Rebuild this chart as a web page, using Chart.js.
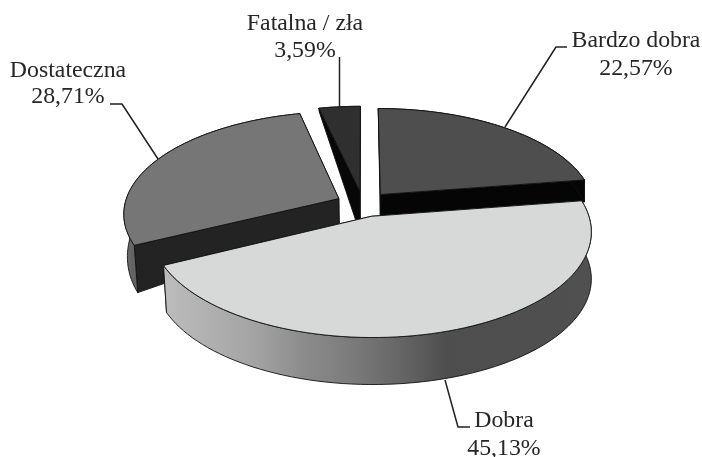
<!DOCTYPE html>
<html>
<head>
<meta charset="utf-8">
<title>Ocena</title>
<script src="https://cdn.jsdelivr.net/npm/chart.js@4"></script>
<style>
  html, body { margin: 0; padding: 0; background: #fff; }
  canvas { display: block; }
</style>
</head>
<body>
<canvas id="pie" width="702" height="457"></canvas>
<script>
const categories = ['Bardzo dobra', 'Dobra', 'Dostateczna', 'Fatalna / zła'];
const shares = [22.57, 45.13, 28.71, 3.59];

const topColors = ['#4e4e4e', '#d6d9d8', '#767676', '#2f2f2f'];
const cutColors = ['#050505', '#808080', '#232323', '#070707'];
const drawOrder = [3, 0, 2, 1];   // back to front
const apexDepth = [0, 0, 0, 20];  // fatalna runs deeper at the centre

// label centre x, baseline of first line, baseline of second line
const labelPos = [[636, 47, 75], [504, 427, 455], [68, 77, 103], [305, 30, 57]];
const leaders = [
  [[567, 47], [556, 47], [505, 127]],
  [[470, 427], [458, 427], [445, 380]],
  [[110, 104], [122, 104], [158, 159]],
  [[339.5, 57], [339.5, 107]]
];

const squash = 0.4696;
const persp = 0.14;
const bottomShrink = 0.985;

function depthAt(u, v, i, r) {
  if (i === 1) return 47;  // the big slice keeps its height all round
  return 24 + 21 * v + 15 * Math.max(0, -u) + 3 * Math.max(0, u) + apexDepth[i] * (1 - r);
}

// plane coords (unit circle, v towards viewer) to the picture
function project(el, u, v, i, r, bottom) {
  const w = 1 - persp * v;
  let x = el.x + el.outerRadius * u / w;
  let y = el.y + el.outerRadius * squash * v / w;
  if (bottom) {
    if (u < 0) x = el.x + (x - el.x) * bottomShrink;
    y += depthAt(u, v, i, r);
  }
  return [x, y];
}

function polygon(ctx, pts, fill) {
  ctx.beginPath();
  pts.forEach((p, k) => k ? ctx.lineTo(p[0], p[1]) : ctx.moveTo(p[0], p[1]));
  ctx.closePath();
  ctx.fillStyle = fill;
  ctx.fill();
  ctx.stroke();
}

function drawSlice(ctx, el, i) {
  const a0 = el.startAngle, a1 = el.endAngle;
  const mid = (a0 + a1) / 2;
  const off = el.options.offset / el.outerRadius;
  const ou = off * Math.cos(mid), ov = off * Math.sin(mid);
  const rim = [];
  for (let k = 0; k <= 80; k++) {
    const t = a0 + (a1 - a0) * k / 80;
    rim.push([ou + Math.cos(t), ov + Math.sin(t)]);
  }
  const topApex = project(el, ou, ov, i, 0, false);
  const botApex = project(el, ou, ov, i, 0, true);
  const topRim = rim.map(p => project(el, p[0], p[1], i, 1, false));
  const botRim = rim.map(p => project(el, p[0], p[1], i, 1, true));

  ctx.lineWidth = 0.9;
  ctx.lineJoin = 'round';
  ctx.strokeStyle = '#111';

  // the two cut faces, the one nearer the viewer last
  const last = rim.length - 1;
  const cuts = topRim[0][1] > topRim[last][1] ? [last, 0] : [0, last];
  cuts.forEach(k => polygon(ctx, [topApex, topRim[k], botRim[k], botApex], cutColors[i]));

  // outer wall
  let wall = cutColors[i];
  if (i === 1) {
    wall = ctx.createLinearGradient(165, 0, 592, 0);
    wall.addColorStop(0, '#bcbcbc');
    wall.addColorStop(0.22, '#a2a2a2');
    wall.addColorStop(0.32, '#8c8c8c');
    wall.addColorStop(0.42, '#7e7e7e');
    wall.addColorStop(0.55, '#666666');
    wall.addColorStop(0.66, '#4e4e4e');
    wall.addColorStop(1, '#505050');
  } else if (i === 2) {
    wall = ctx.createLinearGradient(123, 0, 145, 0);
    wall.addColorStop(0, '#707070');
    wall.addColorStop(1, '#555555');
  }
  polygon(ctx, topRim.concat(botRim.slice().reverse()), wall);

  // top face
  polygon(ctx, [topApex].concat(topRim), topColors[i]);
}

const tiltedPie = {
  id: 'tiltedPie',
  beforeDatasetsDraw(chart) {
    const ctx = chart.ctx;
    const arcs = chart.getDatasetMeta(0).data;
    ctx.save();
    drawOrder.forEach(i => drawSlice(ctx, arcs[i], i));
    ctx.restore();
    return false;
  },
  afterDraw(chart) {
    const ctx = chart.ctx;
    ctx.save();
    ctx.strokeStyle = '#222';
    ctx.lineWidth = 1.5;
    ctx.lineJoin = 'round';
    leaders.forEach(line => {
      ctx.beginPath();
      line.forEach((p, k) => k ? ctx.lineTo(p[0], p[1]) : ctx.moveTo(p[0], p[1]));
      ctx.stroke();
    });
    ctx.fillStyle = '#262626';
    ctx.font = '23.8px "Liberation Serif"';
    ctx.textAlign = 'center';
    ctx.textBaseline = 'alphabetic';
    categories.forEach((name, i) => {
      const pos = labelPos[i];
      ctx.fillText(name, pos[0], pos[1]);
      ctx.fillText(shares[i].toFixed(2).replace('.', ',') + '%', pos[0], pos[2]);
    });
    ctx.restore();
  }
};

new Chart(document.getElementById('pie').getContext('2d'), {
  type: 'pie',
  data: {
    labels: categories,
    datasets: [{ data: shares, offset: 27, backgroundColor: topColors, borderWidth: 0 }]
  },
  options: {
    responsive: false,
    animation: false,
    radius: 214,
    layout: { padding: { left: 24, bottom: 49 } },
    plugins: { legend: { display: false }, tooltip: { enabled: false } }
  },
  plugins: [tiltedPie]
});
</script>
</body>
</html>
